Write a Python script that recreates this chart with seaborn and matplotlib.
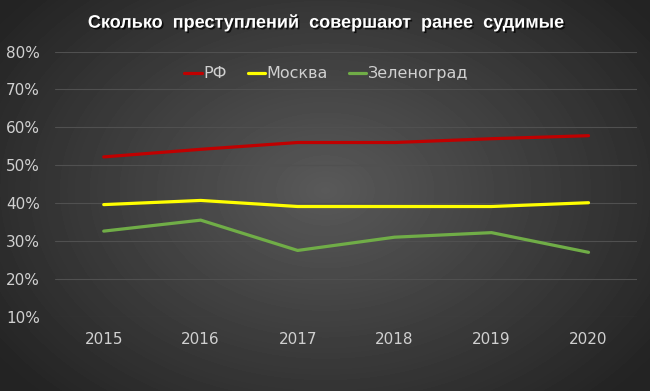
import numpy as np
import pandas as pd
import seaborn as sns
import matplotlib.pyplot as plt
import matplotlib.patheffects as pe
from matplotlib.ticker import PercentFormatter

# data
years = [2015, 2016, 2017, 2018, 2019, 2020]
rf = [52.2, 54.2, 56.0, 56.0, 57.0, 57.8]
moscow = [39.6, 40.7, 39.1, 39.1, 39.1, 40.1]
zelenograd = [32.6, 35.5, 27.5, 31.0, 32.2, 27.0]
series_names = ['РФ', 'Москва', 'Зеленоград']
colors = ['#c00000', '#ffff00', '#70ad47']

df = pd.DataFrame({
    'year': years * 3,
    'value': rf + moscow + zelenograd,
    'series': [n for n in series_names for _ in years],
})

sns.set_style('white')
plt.rcParams['font.family'] = ['Liberation Sans Narrow', 'DejaVu Sans']

fig = plt.figure(figsize=(6.5, 3.91), dpi=100)

# radial gradient background
bg = fig.add_axes([0, 0, 1, 1], zorder=-10)
yy, xx = np.mgrid[0:391, 0:650]
r = np.sqrt(((xx - 325) / 420) ** 2 + ((yy - 190) / 300) ** 2)
shade = np.clip(0.35 - 0.22 * r, 0.14, 0.35)
bg.imshow(shade, cmap='gray', vmin=0, vmax=1, aspect='auto', interpolation='bilinear')
bg.axis('off')

ax = fig.add_axes([0.085, 0.19, 0.895, 0.678])
ax.set_facecolor('none')

sns.lineplot(data=df, x='year', y='value', hue='series', hue_order=series_names,
             palette=colors, linewidth=2.3, ax=ax)

ax.set_xlim(2014.5, 2020.5)
ax.set_ylim(10, 80)
ax.set_yticks(range(10, 81, 10))
ax.yaxis.set_major_formatter(PercentFormatter(decimals=0))
ax.set_xticks(years)
ax.set_xlabel('')
ax.set_ylabel('')
ax.grid(axis='y', color='#505050', linewidth=0.8)
ax.set_axisbelow(True)
for s in ax.spines.values():
    s.set_visible(False)
ax.tick_params(colors='#d0d0d0', labelsize=11, length=0)
ax.tick_params(axis='x', pad=11)
ax.tick_params(axis='y', pad=11)

leg = ax.legend(loc='center', bbox_to_anchor=(0.466, 0.916), ncol=3, frameon=False,
                fontsize=11.5, handlelength=1.1, handletextpad=0.1, columnspacing=1.3,
                labelcolor='#d0d0d0')
for line in leg.get_lines():
    line.set_linewidth(2.3)

fig.text(0.5, 0.942, 'Сколько  преступлений  совершают  ранее  судимые',
         ha='center', va='center', color='white', fontsize=13, fontweight='bold',
         family=['Liberation Sans', 'DejaVu Sans'],
         path_effects=[pe.withSimplePatchShadow(offset=(1.2, -1.2), shadow_rgbFace='black', alpha=0.7)])

fig.savefig('out.png', dpi=100)
